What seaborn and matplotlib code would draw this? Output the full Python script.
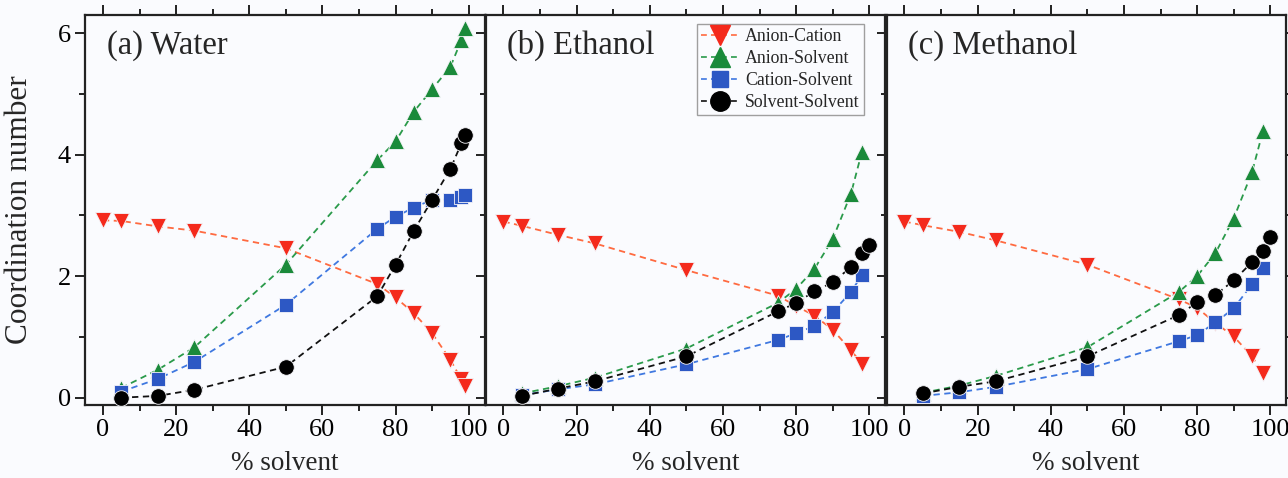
import numpy as np
import pandas as pd
import matplotlib
matplotlib.use("Agg")
import matplotlib.pyplot as plt
from matplotlib.lines import Line2D
from matplotlib.ticker import MultipleLocator
import seaborn as sns

sns.set_theme(style="ticks")
plt.rcParams["font.family"] = ["Liberation Serif", "DejaVu Serif"]
plt.rcParams["mathtext.fontset"] = "stix"

pairs = ["Anion-Cation", "Anion-Solvent", "Cation-Solvent", "Solvent-Solvent"]
panel_titles = ["(a) Water", "(b) Ethanol", "(c) Methanol"]

# ---- coordination numbers vs % solvent ----
# Water
water_ac_x = [0, 5, 15, 25, 50, 75, 80, 85, 90, 95, 98, 99]
water_ac_y = [2.92, 2.91, 2.82, 2.75, 2.46, 1.87, 1.65, 1.39, 1.06, 0.62, 0.30, 0.19]
water_as_x = [5, 15, 25, 50, 75, 80, 85, 90, 95, 98, 99]
water_as_y = [0.16, 0.46, 0.83, 2.19, 3.91, 4.22, 4.71, 5.08, 5.45, 5.89, 6.08]
water_cs_x = [5, 15, 25, 50, 75, 80, 85, 90, 95, 98, 99]
water_cs_y = [0.10, 0.31, 0.59, 1.53, 2.78, 2.98, 3.13, 3.26, 3.26, 3.31, 3.33]
water_ss_x = [5, 15, 25, 50, 75, 80, 85, 90, 95, 98, 99]
water_ss_y = [0.00, 0.03, 0.13, 0.51, 1.67, 2.19, 2.75, 3.26, 3.77, 4.19, 4.33]

# Ethanol
eth_ac_x = [0, 5, 15, 25, 50, 75, 80, 85, 90, 95, 98]
eth_ac_y = [2.90, 2.83, 2.68, 2.54, 2.10, 1.68, 1.51, 1.35, 1.12, 0.78, 0.56]
eth_as_x = [5, 15, 25, 50, 75, 80, 85, 90, 95, 98]
eth_as_y = [0.07, 0.19, 0.33, 0.81, 1.56, 1.79, 2.12, 2.61, 3.36, 4.05]
eth_cs_x = [5, 15, 25, 50, 75, 80, 85, 90, 95, 98]
eth_cs_y = [0.04, 0.14, 0.22, 0.55, 0.95, 1.06, 1.18, 1.41, 1.74, 2.02]
eth_ss_x = [5, 15, 25, 50, 75, 80, 85, 90, 95, 98, 100]
eth_ss_y = [0.03, 0.15, 0.27, 0.68, 1.42, 1.56, 1.75, 1.90, 2.15, 2.39, 2.52]

# Methanol
meth_ac_x = [0, 5, 15, 25, 50, 75, 80, 85, 90, 95, 98]
meth_ac_y = [2.90, 2.84, 2.73, 2.59, 2.19, 1.62, 1.48, 1.23, 1.01, 0.68, 0.40]
meth_as_x = [5, 15, 25, 50, 75, 80, 85, 90, 95, 98]
meth_as_y = [0.08, 0.20, 0.36, 0.83, 1.74, 2.00, 2.38, 2.95, 3.71, 4.39]
meth_cs_x = [5, 15, 25, 50, 75, 80, 85, 90, 95, 98]
meth_cs_y = [0.03, 0.09, 0.18, 0.47, 0.93, 1.03, 1.24, 1.47, 1.87, 2.13]
meth_ss_x = [5, 15, 25, 50, 75, 80, 85, 90, 95, 98, 100]
meth_ss_y = [0.07, 0.18, 0.27, 0.68, 1.36, 1.57, 1.69, 1.93, 2.23, 2.41, 2.64]

panels = [
    [(water_ac_x, water_ac_y), (water_as_x, water_as_y), (water_cs_x, water_cs_y), (water_ss_x, water_ss_y)],
    [(eth_ac_x, eth_ac_y), (eth_as_x, eth_as_y), (eth_cs_x, eth_cs_y), (eth_ss_x, eth_ss_y)],
    [(meth_ac_x, meth_ac_y), (meth_as_x, meth_as_y), (meth_cs_x, meth_cs_y), (meth_ss_x, meth_ss_y)],
]

marker_colors = {"Anion-Cation": "#f42a1c", "Anion-Solvent": "#1a8a3a",
                 "Cation-Solvent": "#2d58c4", "Solvent-Solvent": "#000000"}
line_colors = {"Anion-Cation": "#ff6a40", "Anion-Solvent": "#2a9a4a",
               "Cation-Solvent": "#3f78e0", "Solvent-Solvent": "#111111"}
markers = {"Anion-Cation": "v", "Anion-Solvent": "^",
           "Cation-Solvent": "s", "Solvent-Solvent": "o"}
msizes = {"Anion-Cation": 130, "Anion-Solvent": 130,
          "Cation-Solvent": 95, "Solvent-Solvent": 125}

bg = "#fafbfe"
fig = plt.figure(figsize=(12.88, 4.78), dpi=100, facecolor=bg)
W, H = 1288, 478
lefts = [85, 485.5, 886.5]
width = 399.5
top, bottom = 15, 405

axes = []
for i, series in enumerate(panels):
    ax = fig.add_axes([lefts[i] / W, 1 - bottom / H, width / W, (bottom - top) / H])
    ax.set_facecolor(bg)
    axes.append(ax)
    for name, (xs, ys) in zip(pairs, series):
        df = pd.DataFrame({"solvent": xs, "cn": ys})
        sns.lineplot(data=df, x="solvent", y="cn", ax=ax, color=line_colors[name],
                     linewidth=1.3, dashes=False, estimator=None, sort=True)
        ax.lines[-1].set_dashes((3.5, 2.5))
        sns.scatterplot(data=df, x="solvent", y="cn", ax=ax, marker=markers[name],
                        s=msizes[name], color=marker_colors[name],
                        edgecolor="#f4f4f8", linewidth=0.6, zorder=3)
    ax.set_xlim(-4.9, 104.3)
    ax.set_ylim(-0.12, 6.3)
    ax.xaxis.set_major_locator(MultipleLocator(20))
    ax.xaxis.set_minor_locator(MultipleLocator(10))
    ax.yaxis.set_major_locator(MultipleLocator(2))
    ax.yaxis.set_minor_locator(MultipleLocator(1))
    ax.tick_params(which="both", direction="out", top=True, right=True,
                   width=1.4, colors="#222222", labelcolor="black")
    ax.tick_params(which="major", length=7, labelsize=19, pad=3)
    ax.tick_params(which="minor", length=4.5)
    for sp in ax.spines.values():
        sp.set_linewidth(1.6)
        sp.set_color("#222222")
    ax.set_xlabel("% solvent", fontsize=19.5)
    ax.xaxis.set_label_coords(0.5, -0.117)
    if i == 0:
        ax.set_ylabel("Coordination number", fontsize=22.5)
        ax.yaxis.set_label_coords(-0.128, 0.5)
    else:
        ax.set_ylabel("")
        ax.tick_params(axis="y", labelleft=False)
    ax.text(0.055, 0.962, panel_titles[i], transform=ax.transAxes, fontsize=23.5,
            ha="left", va="top")

handles = [Line2D([0], [0], color=line_colors[n], linestyle=(0, (3.5, 2.5)), linewidth=1.2,
                  marker=markers[n], markersize=14 if n != "Cation-Solvent" else 11,
                  markerfacecolor=marker_colors[n], markeredgecolor=marker_colors[n])
           for n in pairs]
leg = axes[1].legend(handles, pairs, loc="upper right", bbox_to_anchor=(0.947, 0.977),
                     fontsize=12.8, frameon=True, fancybox=False, handlelength=2.1,
                     handletextpad=0.35, labelspacing=0.27, borderpad=0.25,
                     borderaxespad=0.0)
leg.get_frame().set_edgecolor("#888888")
leg.get_frame().set_linewidth(1.0)
leg.get_frame().set_facecolor(bg)

fig.savefig("out.png", dpi=100, facecolor=bg)
